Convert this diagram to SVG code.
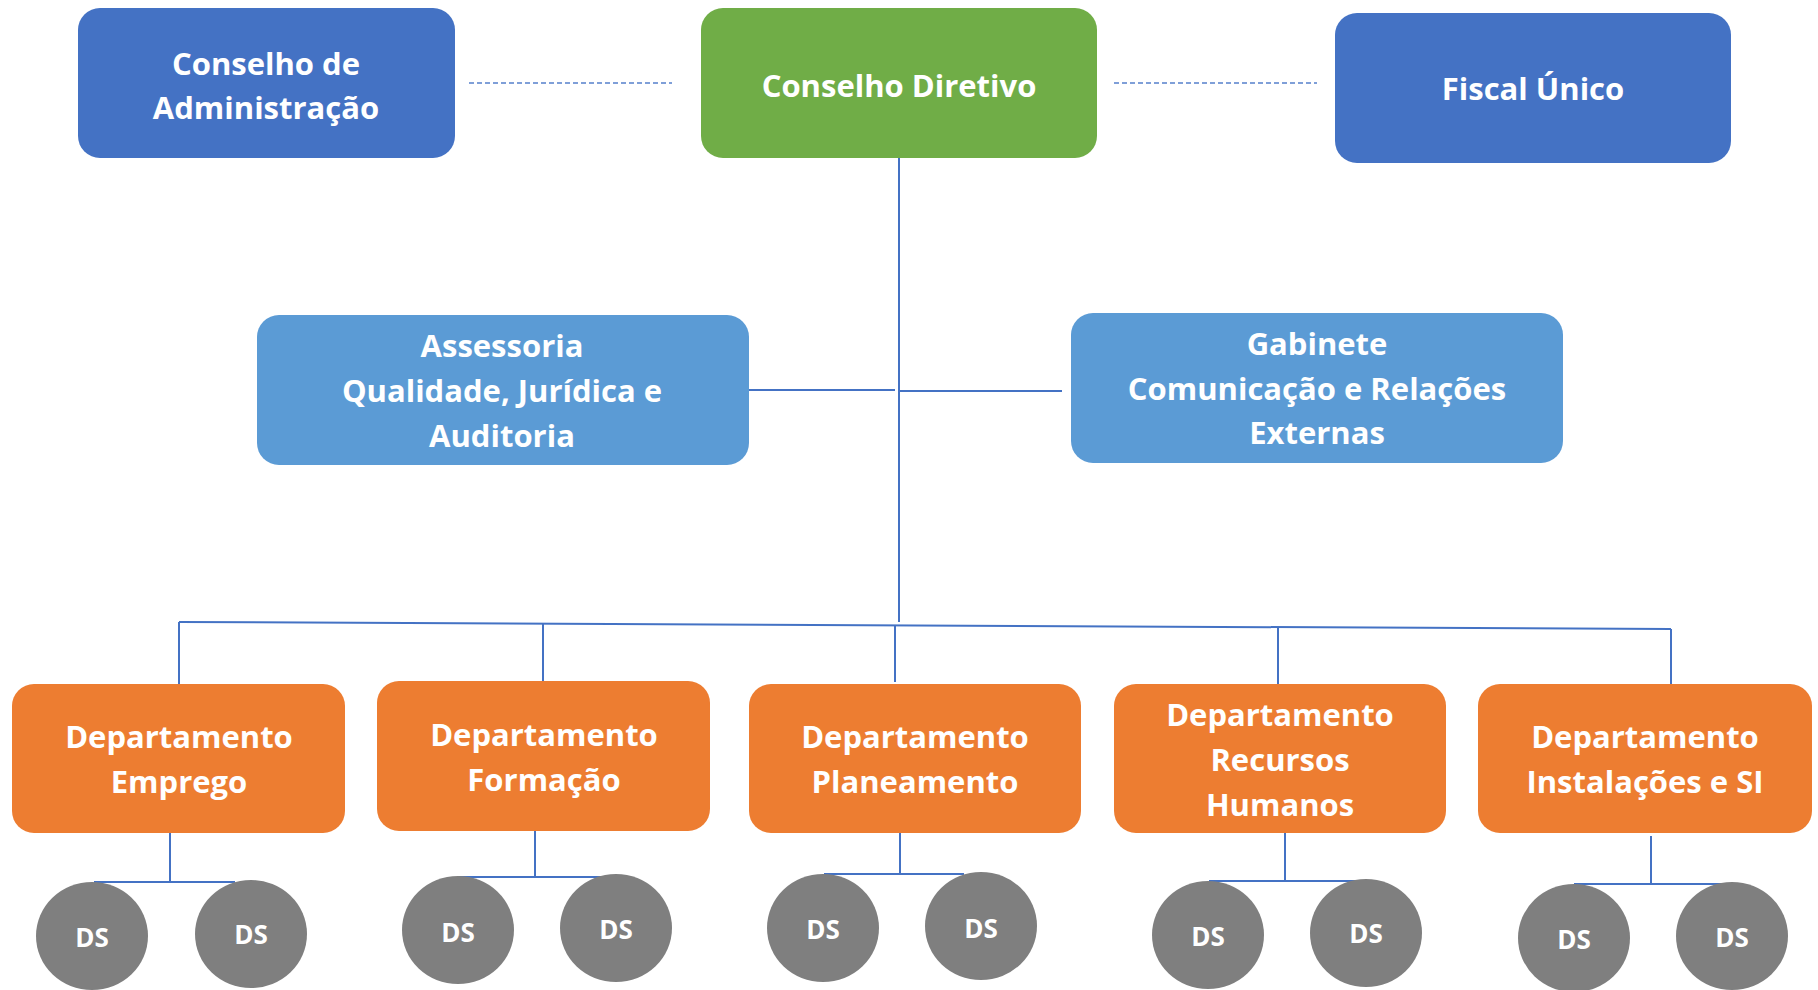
<svg xmlns="http://www.w3.org/2000/svg" width="1818" height="990" viewBox="0 0 1818 990">
<style>
.t{font-family:"Open Sans","Noto Sans","Liberation Sans",sans-serif;font-weight:bold;fill:#fff;text-anchor:middle;font-size:31px}
.ds{font-size:26px}
.ln{stroke:#4472C4;stroke-width:2;fill:none}
.dash{stroke:#7F9FD8;stroke-width:2;stroke-dasharray:5 3;fill:none}
.blue{fill:#4472C4}
.green{fill:#70AD47}
.lblue{fill:#5B9BD5}
.orange{fill:#ED7D31}
.gray{fill:#7F7F7F}
</style>
<rect width="1818" height="990" fill="#fff"/>
<g id="connectors">
<line class="dash" x1="469" y1="83" x2="672" y2="83"/>
<line class="dash" x1="1114" y1="83" x2="1317" y2="83"/>
<line class="ln" x1="899" y1="158" x2="899" y2="622"/>
<line class="ln" x1="749" y1="390" x2="895" y2="390"/>
<line class="ln" x1="898" y1="391" x2="1062" y2="391"/>
<polyline class="ln" points="179,622 1671,629"/>
<line class="ln" x1="179" y1="622" x2="179" y2="684"/>
<line class="ln" x1="543" y1="624" x2="543" y2="681"/>
<line class="ln" x1="895" y1="626" x2="895" y2="682"/>
<line class="ln" x1="1278" y1="628" x2="1278" y2="686"/>
<line class="ln" x1="1671" y1="629" x2="1671" y2="686"/>
<polyline class="ln" points="170,833 170,882"/>
<polyline class="ln" points="94,882 235,882"/>
<polyline class="ln" points="535,830 535,877"/>
<polyline class="ln" points="458,877 604,877"/>
<polyline class="ln" points="900,827 900,874"/>
<polyline class="ln" points="824,874 964,874"/>
<polyline class="ln" points="1285,833 1285,881"/>
<polyline class="ln" points="1209,881 1362,881"/>
<polyline class="ln" points="1651,836 1651,884"/>
<polyline class="ln" points="1574,884 1731,884"/>
</g>
<g id="conselho-administracao"><rect class="blue" x="78" y="8" width="377" height="150" rx="22"/><text class="t" x="266" y="75">Conselho de</text><text class="t" x="266" y="119">Administração</text></g>
<g id="conselho-diretivo"><rect class="green" x="701" y="8" width="396" height="150" rx="22"/><text class="t" x="899" y="97">Conselho Diretivo</text></g>
<g id="fiscal-unico"><rect class="blue" x="1335" y="13" width="396" height="150" rx="22"/><text class="t" x="1533" y="100">Fiscal Único</text></g>
<g id="assessoria"><rect class="lblue" x="257" y="315" width="492" height="150" rx="22"/><text class="t" x="502" y="357">Assessoria</text><text class="t" x="502" y="402">Qualidade, Jurídica e</text><text class="t" x="502" y="447">Auditoria</text></g>
<g id="gabinete"><rect class="lblue" x="1071" y="313" width="492" height="150" rx="22"/><text class="t" x="1317" y="355">Gabinete</text><text class="t" x="1317" y="400">Comunicação e Relações</text><text class="t" x="1317" y="444">Externas</text></g>
<g id="dep-emprego"><rect class="orange" x="12" y="684" width="333" height="149" rx="22"/><text class="t" x="179" y="748">Departamento</text><text class="t" x="179" y="793">Emprego</text></g>
<g id="dep-formacao"><rect class="orange" x="377" y="681" width="333" height="150" rx="22"/><text class="t" x="544" y="746">Departamento</text><text class="t" x="544" y="791">Formação</text></g>
<g id="dep-planeamento"><rect class="orange" x="749" y="684" width="332" height="149" rx="22"/><text class="t" x="915" y="748">Departamento</text><text class="t" x="915" y="793">Planeamento</text></g>
<g id="dep-rh"><rect class="orange" x="1114" y="684" width="332" height="149" rx="22"/><text class="t" x="1280" y="726">Departamento</text><text class="t" x="1280" y="771">Recursos</text><text class="t" x="1280" y="816">Humanos</text></g>
<g id="dep-instalacoes"><rect class="orange" x="1478" y="684" width="334" height="149" rx="22"/><text class="t" x="1645" y="748">Departamento</text><text class="t" x="1645" y="793">Instalações e SI</text></g>
<g id="ds1"><ellipse class="gray" cx="92" cy="936" rx="56" ry="54"/><text class="t ds" x="92" y="947">DS</text></g>
<g id="ds2"><ellipse class="gray" cx="251" cy="934" rx="56" ry="54"/><text class="t ds" x="251" y="944">DS</text></g>
<g id="ds3"><ellipse class="gray" cx="458" cy="930" rx="56" ry="54"/><text class="t ds" x="458" y="942">DS</text></g>
<g id="ds4"><ellipse class="gray" cx="616" cy="928" rx="56" ry="54"/><text class="t ds" x="616" y="939">DS</text></g>
<g id="ds5"><ellipse class="gray" cx="823" cy="928" rx="56" ry="54"/><text class="t ds" x="823" y="939">DS</text></g>
<g id="ds6"><ellipse class="gray" cx="981" cy="926" rx="56" ry="54"/><text class="t ds" x="981" y="938">DS</text></g>
<g id="ds7"><ellipse class="gray" cx="1208" cy="935" rx="56" ry="54"/><text class="t ds" x="1208" y="946">DS</text></g>
<g id="ds8"><ellipse class="gray" cx="1366" cy="933" rx="56" ry="54"/><text class="t ds" x="1366" y="943">DS</text></g>
<g id="ds9"><ellipse class="gray" cx="1574" cy="938" rx="56" ry="54"/><text class="t ds" x="1574" y="949">DS</text></g>
<g id="ds10"><ellipse class="gray" cx="1732" cy="936" rx="56" ry="54"/><text class="t ds" x="1732" y="947">DS</text></g>
</svg>
